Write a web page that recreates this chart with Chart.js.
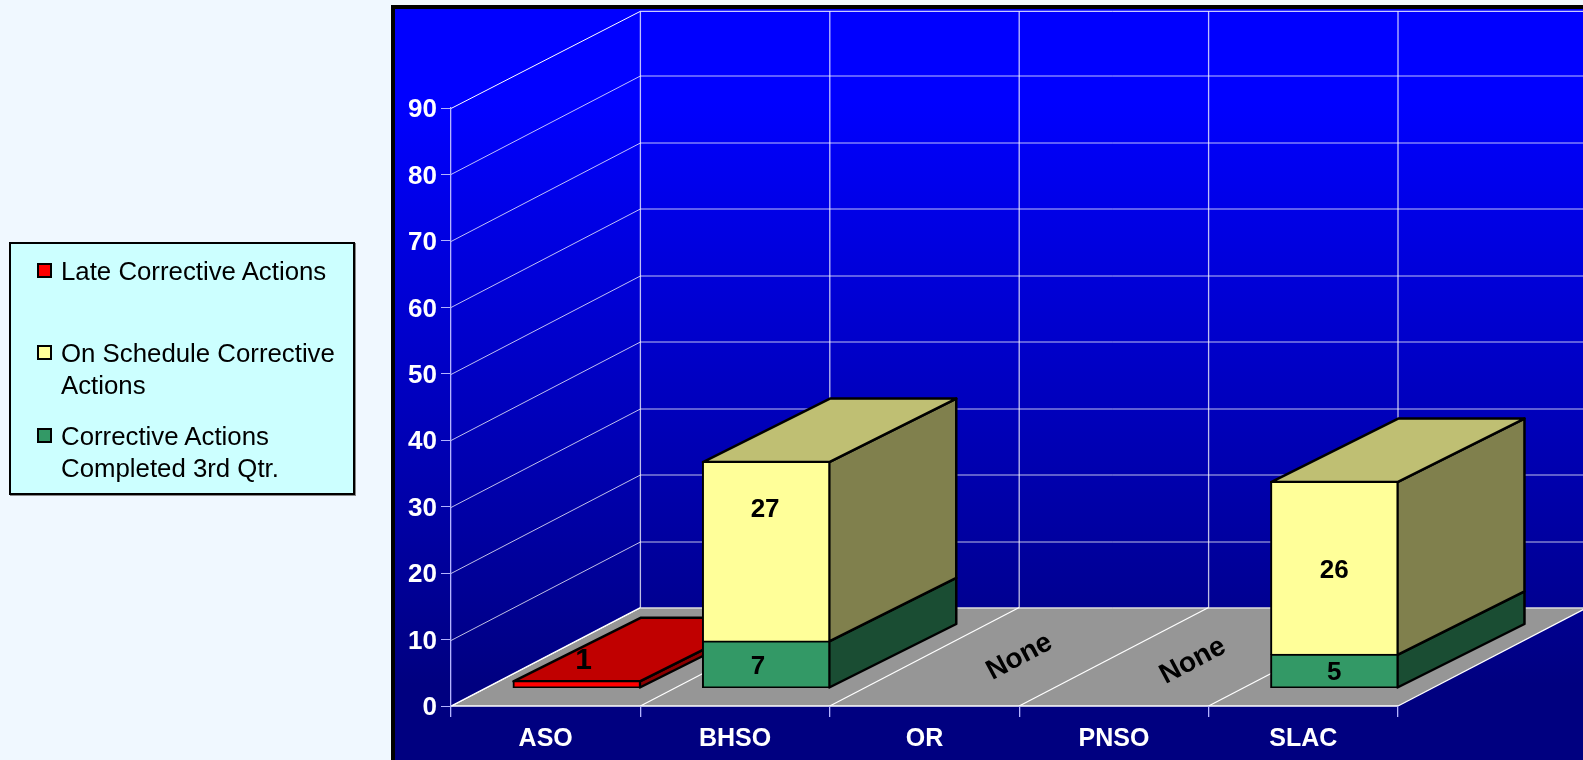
<!DOCTYPE html>
<html>
<head>
<meta charset="utf-8">
<title>Corrective Actions</title>
<script src="https://cdn.jsdelivr.net/npm/chart.js@4"></script>
<style>
  html, body { margin: 0; padding: 0; background: #f0f8ff; overflow: hidden; }
  canvas { position: absolute; left: 0; top: 0; }
  #legend {
    position: absolute; left: 9px; top: 242px; width: 346px; height: 253px; box-sizing: border-box;
    background: #ccffff; border: 2px solid #000; box-shadow: 1px 1px 0 #888;
    font: 25.8px/32px "Liberation Sans", Arial, sans-serif; color: #000;
  }
  #legend div.item { position: absolute; left: 50px; width: 290px; }
  #legend span { position: absolute; left: -24px; top: 8px; width: 15px; height: 15px; box-sizing: border-box; border: 2px solid #000; }
</style>
</head>
<body>
<canvas id="chart" width="1583" height="760"></canvas>
<div id="legend"></div>
<script>
const categories = ['ASO', 'BHSO', 'OR', 'PNSO', 'SLAC'];
const completed = [null, 7, null, null, 5];
const onSchedule = [null, 27, null, null, 26];
const late = [1, null, null, null, null];
const yTicks = [0, 10, 20, 30, 40, 50, 60, 70, 80, 90];
const noneLabel = 'None';

const lateName = 'Late Corrective Actions';
const onScheduleName = 'On Schedule Corrective Actions';
const completedName = 'Corrective Actions Completed 3rd Qtr.';

// 3d look: how far the back wall sits behind the front plane, and the bars inside that
const wallX = 189.4, wallY = 98.5;
const wallTop = 11.3;
const barShiftX = 31, barShiftY = -18;
const barDepthX = 127, barDepthY = -63.5;

const font = '"Liberation Sans", Arial, sans-serif';
const legendTops = [11, 93, 176];
const textDrop = 2; // canvas 'middle' sits a bit high for this font

// side / top shades for each front colour
const shades = {
  '#ff0000': { side: '#8a0000', top: '#c00000' },
  '#ffff99': { side: '#80804d', top: '#bfbf73' },
  '#339966': { side: '#1a4d33', top: '#267350' }
};

// a few labels were moved by hand in the original, the "1" is also bigger
const labelNudge = { '0-2': [7, -26], '1-0': [-8, 0], '1-1': [-1, -44] };
const labelSize = { '0-2': 30 };
const noneNudge = { 2: [95, -51], 3: [79, -47] };

function poly(ctx, pts, fill, stroke, lw) {
  ctx.beginPath();
  pts.forEach((p, i) => i ? ctx.lineTo(p[0], p[1]) : ctx.moveTo(p[0], p[1]));
  ctx.closePath();
  if (fill) { ctx.fillStyle = fill; ctx.fill(); }
  if (stroke) { ctx.strokeStyle = stroke; ctx.lineWidth = lw; ctx.lineJoin = 'round'; ctx.stroke(); }
}

const wallsPlugin = {
  id: 'walls',
  beforeDraw(chart) {
    const { ctx, scales: { x, y } } = chart;
    const W = chart.width, H = chart.height;

    // panel
    const grad = ctx.createLinearGradient(0, 9, 0, H);
    grad.addColorStop(0, '#0000ff');
    grad.addColorStop(0.12, '#0000ff');
    grad.addColorStop(0.9, '#000080');
    grad.addColorStop(1, '#000080');
    ctx.fillStyle = '#000';
    ctx.fillRect(391, 5, W - 391, H - 5);
    ctx.fillStyle = grad;
    ctx.fillRect(395, 9, W - 395, H - 9);

    const y0 = y.getPixelForValue(0);
    const step = (x.right - x.left) / categories.length;

    // floor
    poly(ctx, [[x.left, y0], [x.left + wallX, y0 - wallY], [x.right + wallX, y0 - wallY], [x.right, y0]], '#969696');

    // horizontal grid on side wall and back wall
    yTicks.forEach(v => {
      const py = Math.round(y.getPixelForValue(v)) + 0.5;
      const back = v === 90 ? wallTop : py - wallY;
      ctx.strokeStyle = v === 0 || v === 90 ? '#fff' : 'rgba(255,255,255,0.75)';
      ctx.lineWidth = 1;
      ctx.beginPath();
      ctx.moveTo(x.left, py);
      ctx.lineTo(x.left + wallX, back);
      ctx.lineTo(x.right + wallX, back);
      ctx.stroke();
    });

    // vertical lines on back wall, lines over the floor
    for (let i = 0; i <= categories.length; i++) {
      const px = x.left + i * step;
      ctx.strokeStyle = 'rgba(255,255,255,0.75)';
      ctx.lineWidth = 1.3;
      ctx.beginPath();
      ctx.moveTo(px + wallX, wallTop);
      ctx.lineTo(px + wallX, y0 - wallY);
      ctx.stroke();
      ctx.strokeStyle = '#fff';
      ctx.lineWidth = 1.3;
      ctx.beginPath();
      ctx.moveTo(px, y0);
      ctx.lineTo(px + wallX, y0 - wallY);
      ctx.stroke();
    }
    ctx.strokeStyle = '#fff';
    ctx.lineWidth = 1.5;
    ctx.beginPath();
    ctx.moveTo(x.left, y0);
    ctx.lineTo(x.right, y0);
    ctx.stroke();

    // y tick labels
    ctx.fillStyle = '#fff';
    ctx.font = 'bold 26px ' + font;
    ctx.textAlign = 'right';
    ctx.textBaseline = 'middle';
    yTicks.forEach(v => ctx.fillText(String(v), x.left - 14, y.getPixelForValue(v) + textDrop));
  },
  beforeDatasetsDraw(chart) {
    const { ctx } = chart;
    ctx.save();
    ctx.translate(barShiftX, barShiftY);

    // side and top faces, left to right, fronts get drawn by chart.js afterwards
    categories.forEach((c, i) => {
      let topSeg = -1;
      chart.data.datasets.forEach((ds, d) => { if (ds.data[i] != null) topSeg = d; });
      chart.data.datasets.forEach((ds, d) => {
        if (ds.data[i] == null) return;
        const bar = chart.getDatasetMeta(d).data[i];
        const { x: cx, y: top, base, width } = bar.getProps(['x', 'y', 'base', 'width'], true);
        const r = cx + width / 2, l = cx - width / 2;
        const s = shades[ds.backgroundColor];
        poly(ctx, [[r, top], [r + barDepthX, top + barDepthY], [r + barDepthX, base + barDepthY], [r, base]], s.side, '#000', 2.5);
        if (d === topSeg) {
          poly(ctx, [[l, top], [l + barDepthX, top + barDepthY], [r + barDepthX, top + barDepthY], [r, top]], s.top, '#000', 2.5);
        }
      });
    });
  },
  afterDatasetsDraw(chart) {
    const { ctx, scales: { x } } = chart;
    ctx.restore();

    ctx.fillStyle = '#000';
    ctx.textAlign = 'center';
    ctx.textBaseline = 'middle';

    // value labels
    chart.data.datasets.forEach((ds, d) => {
      chart.getDatasetMeta(d).data.forEach((bar, i) => {
        if (ds.data[i] == null) return;
        const key = i + '-' + d;
        const n = labelNudge[key] || [0, 0];
        const { x: cx, y: top, base } = bar.getProps(['x', 'y', 'base'], true);
        ctx.font = 'bold ' + (labelSize[key] || 26) + 'px ' + font;
        ctx.fillText(String(ds.data[i]), cx + barShiftX + n[0], (top + base) / 2 + barShiftY + n[1] + textDrop);
      });
    });

    // empty categories
    ctx.font = 'bold 28px ' + font;
    categories.forEach((c, i) => {
      if (chart.data.datasets.some(ds => ds.data[i] != null)) return;
      const n = noneNudge[i] || [0, 0];
      ctx.save();
      ctx.translate(x.getPixelForValue(i) + n[0], chart.scales.y.getPixelForValue(0) + n[1] + textDrop);
      ctx.rotate(-28 * Math.PI / 180);
      ctx.fillText(noneLabel, 0, 0);
      ctx.restore();
    });
  }
};

new Chart(document.getElementById('chart'), {
  type: 'bar',
  data: {
    labels: categories,
    datasets: [
      { label: completedName, data: completed, backgroundColor: '#339966', borderSkipped: false },
      { label: onScheduleName, data: onSchedule, backgroundColor: '#ffff99' },
      { label: lateName, data: late, backgroundColor: '#ff0000', borderSkipped: false }
    ]
  },
  options: {
    responsive: false,
    animation: false,
    layout: { padding: { left: 391, right: 185, top: 108, bottom: 0 } },
    datasets: { bar: { borderColor: '#000', borderWidth: 2, inflateAmount: 1, barPercentage: 0.667, categoryPercentage: 1 } },
    plugins: { legend: { display: false }, tooltip: { enabled: false } },
    scales: {
      x: {
        stacked: true,
        afterFit(s) { s.height = 54; },
        grid: { drawOnChartArea: false, tickLength: 11, color: '#b4b4ff', lineWidth: 1.3 },
        border: { display: false },
        ticks: { color: '#fff', padding: 7, font: { family: font, size: 25, weight: 'bold' }, maxRotation: 0 }
      },
      y: {
        stacked: true,
        min: 0,
        max: 90,
        afterFit(s) { s.width = 60; },
        afterBuildTicks(s) { s.ticks = yTicks.map(v => ({ value: v })); },
        grid: { drawOnChartArea: false, tickLength: 10, color: '#b4b4ff', lineWidth: 1 },
        border: { display: true, color: '#b4b4ff', width: 1.3 },
        // labels are drawn with the walls so they can sit on the tick properly
        ticks: { display: false }
      }
    }
  },
  plugins: [wallsPlugin]
});

// html legend, same order as the original
const legendEl = document.getElementById('legend');
[[lateName, '#ff0000'], [onScheduleName, '#ffff99'], [completedName, '#339966']].forEach((it, i) => {
  const item = document.createElement('div');
  item.className = 'item';
  item.style.top = legendTops[i] + 'px';
  item.textContent = it[0];
  const sw = document.createElement('span');
  sw.style.background = it[1];
  item.appendChild(sw);
  legendEl.appendChild(item);
});
</script>
</body>
</html>
